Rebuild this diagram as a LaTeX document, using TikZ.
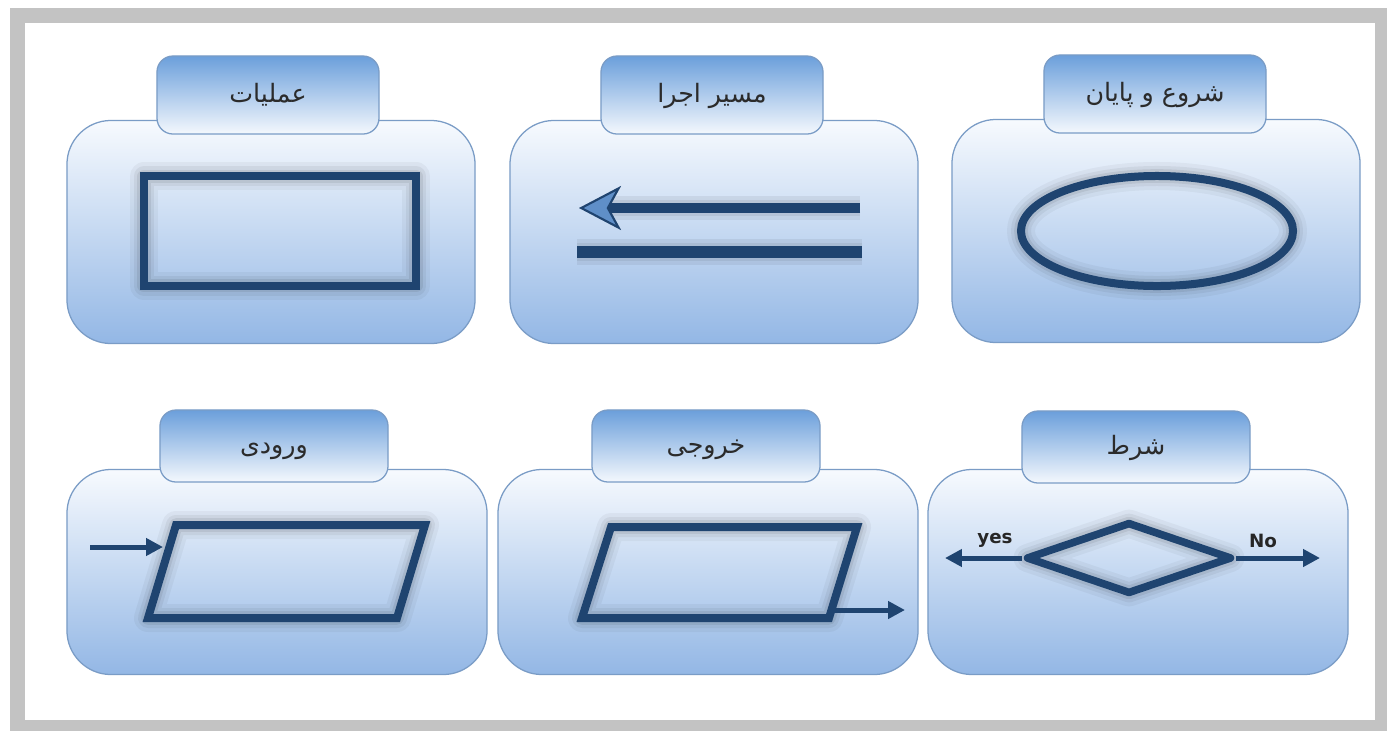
\documentclass[tikz,border=0pt]{standalone}
\usepackage{fontspec}
\usetikzlibrary{shapes.geometric,arrows.meta}
\TeXXeTstate=1
\newfontfamily\farsifont[Script=Arabic]{DejaVu Sans}
\newfontfamily\latinfont{DejaVu Sans}

\definecolor{framegray}{HTML}{C3C3C3}
\definecolor{panelline}{HTML}{7A9CC6}
\definecolor{paneltop}{HTML}{F7FAFE}
\definecolor{panelbottom}{HTML}{93B7E5}
\definecolor{tabtop}{HTML}{6B9FDB}
\definecolor{tabbottom}{HTML}{F4F8FD}
\definecolor{shapeblue}{HTML}{1F4470}
\definecolor{headblue}{HTML}{5F8FC8}
\definecolor{labelgray}{HTML}{2B2B2B}

\tikzset{
  panel/.style={draw=panelline, line width=0.9pt, rounded corners=1.1cm,
    top color=paneltop, bottom color=panelbottom},
  toprow/.style={panel, minimum width=10.2cm, minimum height=5.575cm},
  bottomrow/.style={panel, minimum width=10.5cm, minimum height=5.125cm},
  tab/.style={draw=panelline, line width=0.9pt, rounded corners=0.4cm,
    top color=tabtop, bottom color=tabbottom, text=labelgray,
    text height=0.42cm, text depth=0.04cm,
    font=\farsifont\fontsize{18}{21}\selectfont},
  toptab/.style={tab, minimum width=5.55cm, minimum height=1.95cm},
  bottomtab/.style={tab, minimum width=5.7cm, minimum height=1.8cm},
  symbol/.style={draw=shapeblue, line width=0.2cm, inner sep=0pt,
    preaction={draw=black, opacity=0.04, line width=0.7cm, line join=round},
    preaction={draw=black, opacity=0.05, line width=0.5cm, line join=round},
    preaction={draw=black, opacity=0.07, line width=0.34cm, line join=round}},
  flowline/.style={draw=shapeblue, line width=0.125cm,
    -{Triangle[length=0.42cm, width=0.42cm]}},
  answer/.style={font=\latinfont\bfseries\fontsize{13}{15}\selectfont, text=black!85}
}

\begin{document}
\begin{tikzpicture}[x=0.025cm, y=-0.025cm]
  \useasboundingbox (0,0) rectangle (1387,731);
  \fill[white] (0,0) rectangle (1387,731);
  % frame
  \fill[framegray] (10,8) rectangle (1387,731);
  \fill[white] (25,23) rectangle (1375,720);

  % panels, top row
  \node[toprow] (opbody) at (271,232) {};
  \node[toptab] (optab) at (268,95) {\beginR عملیات\endR};
  \node[toprow] (flowbody) at (714,232) {};
  \node[toptab] (flowtab) at (712,95) {\beginR مسیر اجرا\endR};
  \node[toprow] (termbody) at (1156,231) {};
  \node[toptab] (termtab) at (1155,94) {\beginR شروع و پایان\endR};

  % panels, bottom row
  \node[bottomrow] (inbody) at (277,572) {};
  \node[bottomtab] (intab) at (274,446) {\beginR ورودی\endR};
  \node[bottomrow] (outbody) at (708,572) {};
  \node[bottomtab] (outtab) at (706,446) {\beginR خروجی\endR};
  \node[bottomrow] (condbody) at (1138,572) {};
  \node[bottomtab] (condtab) at (1136,447) {\beginR شرط\endR};

  % process box
  \node[symbol, rectangle, minimum width=6.8cm, minimum height=2.725cm] (proc) at (280,231) {};

  % flow lines
  \coordinate (flowA) at (860,208);
  \coordinate (flowB) at (579,208);
  \coordinate (barA) at (577,252);
  \coordinate (barB) at (862,252);
  \draw[draw=shapeblue, line width=0.27cm,
    -{Stealth[length=1.05cm, width=1.1cm, inset=0.3cm, fill=headblue, line width=1.5pt]},
    preaction={draw=black, opacity=0.06, line width=0.6cm},
    preaction={draw=black, opacity=0.06, line width=0.42cm}] (flowA) -- (flowB);
  \draw[draw=shapeblue, line width=0.3cm,
    preaction={draw=black, opacity=0.06, line width=0.65cm},
    preaction={draw=black, opacity=0.06, line width=0.46cm}] (barA) -- (barB);

  % start / end
  \node[symbol, ellipse, minimum width=6.8cm, minimum height=2.75cm] (term) at (1157,231) {};

  % input
  \coordinate (inTL) at (176,525);
  \coordinate (inTR) at (425,525);
  \coordinate (inBR) at (397,618);
  \coordinate (inBL) at (148,618);
  \draw[symbol, line join=miter] (inTL) -- (inTR) -- (inBR) -- (inBL) -- cycle;
  \coordinate (inA) at (90,547);
  \coordinate (inB) at (163,547);
  \draw[flowline] (inA) -- (inB);

  % output
  \coordinate (outTL) at (611,527);
  \coordinate (outTR) at (857,527);
  \coordinate (outBR) at (829,618);
  \coordinate (outBL) at (582,618);
  \draw[symbol, line join=miter] (outTL) -- (outTR) -- (outBR) -- (outBL) -- cycle;
  \coordinate (outA) at (833,610);
  \coordinate (outB) at (905,610);
  \draw[flowline] (outA) -- (outB);

  % condition
  \node[symbol, diamond, line width=0.19cm, line join=round,
    minimum width=5.15cm, minimum height=1.8cm] (cond) at (1129,558) {};
  \coordinate (yesend) at (945,558);
  \coordinate (noend) at (1320,558);
  \draw[flowline] (cond.west) -- (yesend);
  \draw[flowline] (cond.east) -- (noend);
  \node[answer] (yeslbl) at (995,540) {yes};
  \node[answer] (nolbl) at (1263,541) {No};
\end{tikzpicture}
\end{document}
